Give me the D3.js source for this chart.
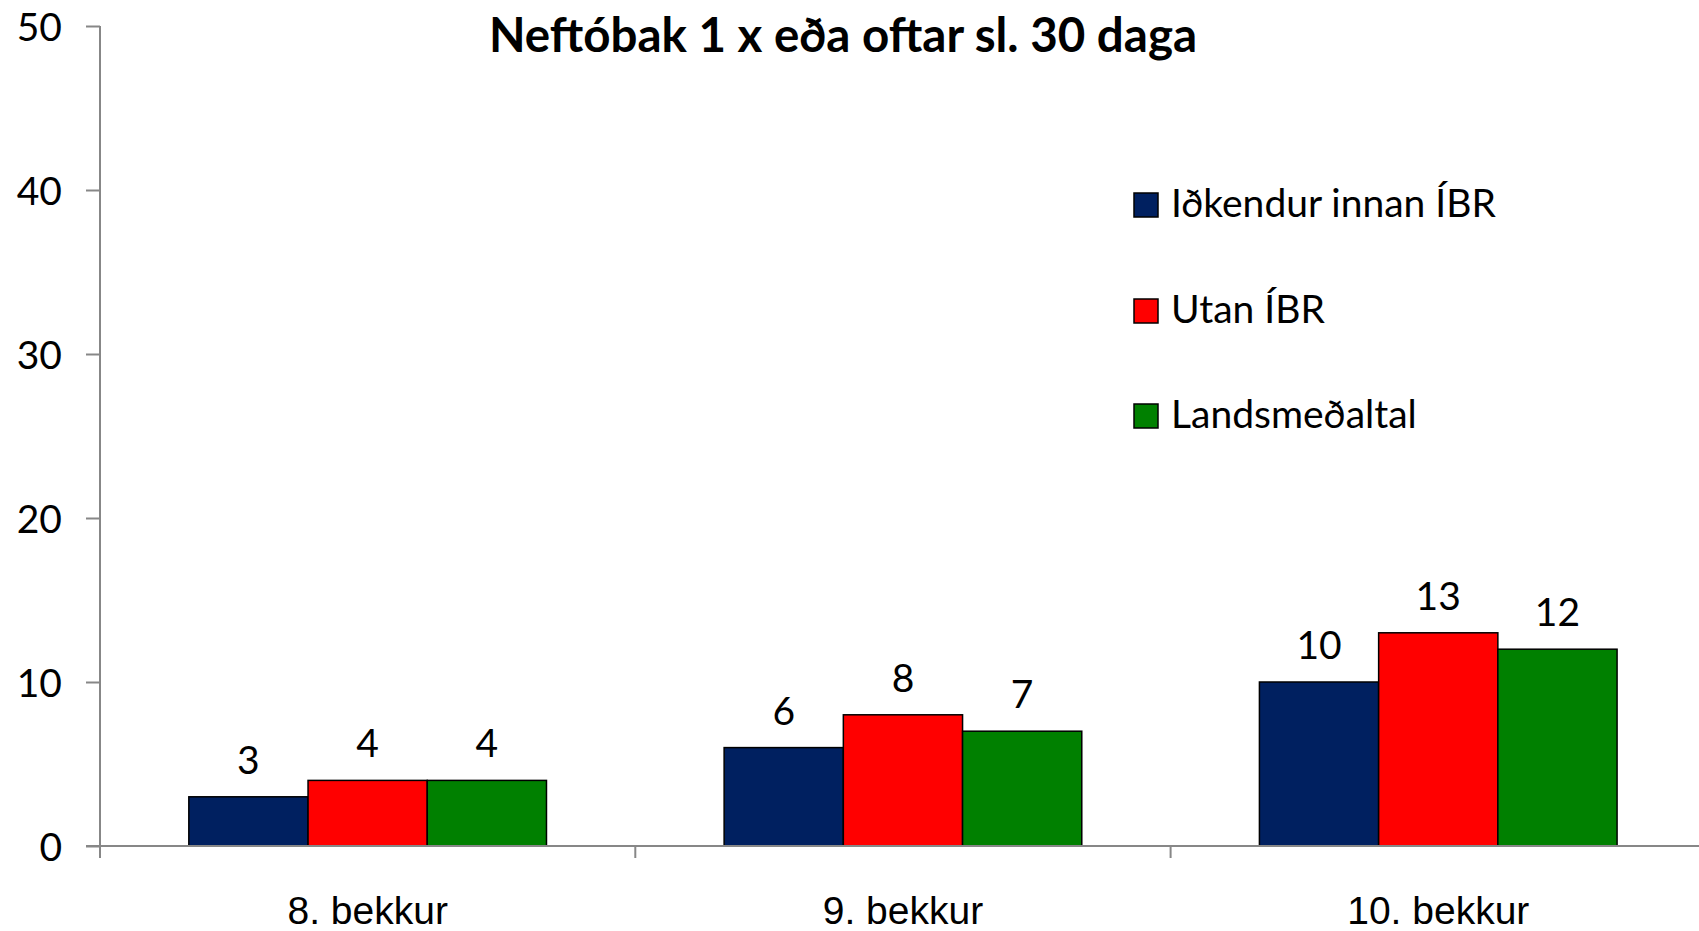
<!DOCTYPE html>
<html>
<head>
<meta charset="utf-8">
<script src="https://cdn.jsdelivr.net/npm/d3@7"></script>
<style>
  html, body { margin: 0; padding: 0; background: #fff; overflow: hidden; }
  svg { display: block; font-family: Lato, "Open Sans", sans-serif; }
</style>
</head>
<body>
<svg id="chart" width="1699" height="931"></svg>
<script>
const title = "Neftóbak 1 x eða oftar sl. 30 daga";
const categories = ["8. bekkur", "9. bekkur", "10. bekkur"];
const seriesNames = ["Iðkendur innan ÍBR", "Utan ÍBR", "Landsmeðaltal"];
const seriesColors = ["#002060", "#FF0000", "#008000"];
const valuesInnan = [3, 6, 10];
const valuesUtan = [4, 8, 13];
const valuesLands = [4, 7, 12];
const yTicks = [0, 10, 20, 30, 40, 50];

const seriesValues = [valuesInnan, valuesUtan, valuesLands];

const svg = d3.select("#chart");
const W = 1699, H = 931;
const plot = { left: 100, top: 26, bottom: 846, bandW: 535.3 };

const x = d3.scaleBand()
  .domain(categories)
  .range([plot.left, plot.left + plot.bandW * categories.length])
  .paddingInner(0).paddingOuter(0);

const xs = d3.scaleBand()
  .domain(seriesNames)
  .range([0, x.bandwidth()])
  .paddingInner(0).paddingOuter(0.745);

const y = d3.scaleLinear().domain([0, 50]).range([plot.bottom, plot.top]);

const axisColor = "#878787";
const fontSize = 39;

// Y axis
const yAxis = svg.append("g")
  .attr("transform", `translate(${plot.left},0)`)
  .call(d3.axisLeft(y).tickValues(yTicks).tickSize(14).tickPadding(24).tickSizeOuter(0));
yAxis.select(".domain").remove();
yAxis.append("line").attr("x1", 0).attr("x2", 0).attr("y1", plot.top).attr("y2", plot.bottom + 12)
  .attr("stroke", axisColor).attr("stroke-width", 2);
yAxis.selectAll(".tick line").attr("stroke", axisColor).attr("stroke-width", 2);
yAxis.selectAll(".tick text").attr("fill", "#000").style("font-size", fontSize + "px")
  .style("font-family", "Lato").attr("dy", "0.36em");

// Bars
const groups = svg.append("g").selectAll("g")
  .data(categories)
  .join("g")
  .attr("transform", d => `translate(${x(d)},0)`);

seriesNames.forEach((s, si) => {
  groups.append("rect")
    .attr("x", xs(s))
    .attr("width", xs.bandwidth())
    .attr("y", (d, i) => y(seriesValues[si][i]))
    .attr("height", (d, i) => y(0) - y(seriesValues[si][i]))
    .attr("fill", seriesColors[si])
    .attr("stroke", "#000")
    .attr("stroke-width", 1.5);
  groups.append("text")
    .attr("x", xs(s) + xs.bandwidth() / 2)
    .attr("y", (d, i) => y(seriesValues[si][i]) - 23)
    .attr("text-anchor", "middle")
    .style("font-size", fontSize + "px")
    .text((d, i) => seriesValues[si][i]);
});

// X axis
const xAxis = svg.append("g")
  .attr("transform", `translate(0,${plot.bottom})`)
  .call(d3.axisBottom(x).tickSize(0).tickPadding(0).tickSizeOuter(0));
xAxis.select(".domain").remove();
xAxis.append("line").attr("x1", plot.left - 14).attr("x2", W + 20).attr("y1", 0).attr("y2", 0)
  .attr("stroke", axisColor).attr("stroke-width", 2);
xAxis.selectAll(".tick text").attr("fill", "#000").style("font-size", fontSize + "px")
  .attr("y", 78).attr("dy", 0);
const boundaries = categories.map(c => x(c)).concat([x.range()[1]]);
xAxis.selectAll(".bound").data(boundaries).join("line")
  .attr("class", "bound")
  .attr("x1", d => d).attr("x2", d => d).attr("y1", 0).attr("y2", 12)
  .attr("stroke", axisColor).attr("stroke-width", 2);

// Title
svg.append("text")
  .attr("x", 843).attr("y", 52)
  .attr("text-anchor", "middle")
  .style("font-size", "47.5px").style("font-weight", "bold")
  .text(title);

// Legend
const legend = svg.append("g").attr("transform", "translate(1134,0)");
const legendBaselines = [217, 323, 428];
seriesNames.forEach((s, i) => {
  legend.append("rect")
    .attr("x", 0).attr("y", legendBaselines[i] - 24)
    .attr("width", 24).attr("height", 24)
    .attr("fill", seriesColors[i]).attr("stroke", "#000").attr("stroke-width", 1.5);
  legend.append("text")
    .attr("x", 37).attr("y", legendBaselines[i])
    .style("font-size", fontSize + "px")
    .text(s);
});
</script>
</body>
</html>
